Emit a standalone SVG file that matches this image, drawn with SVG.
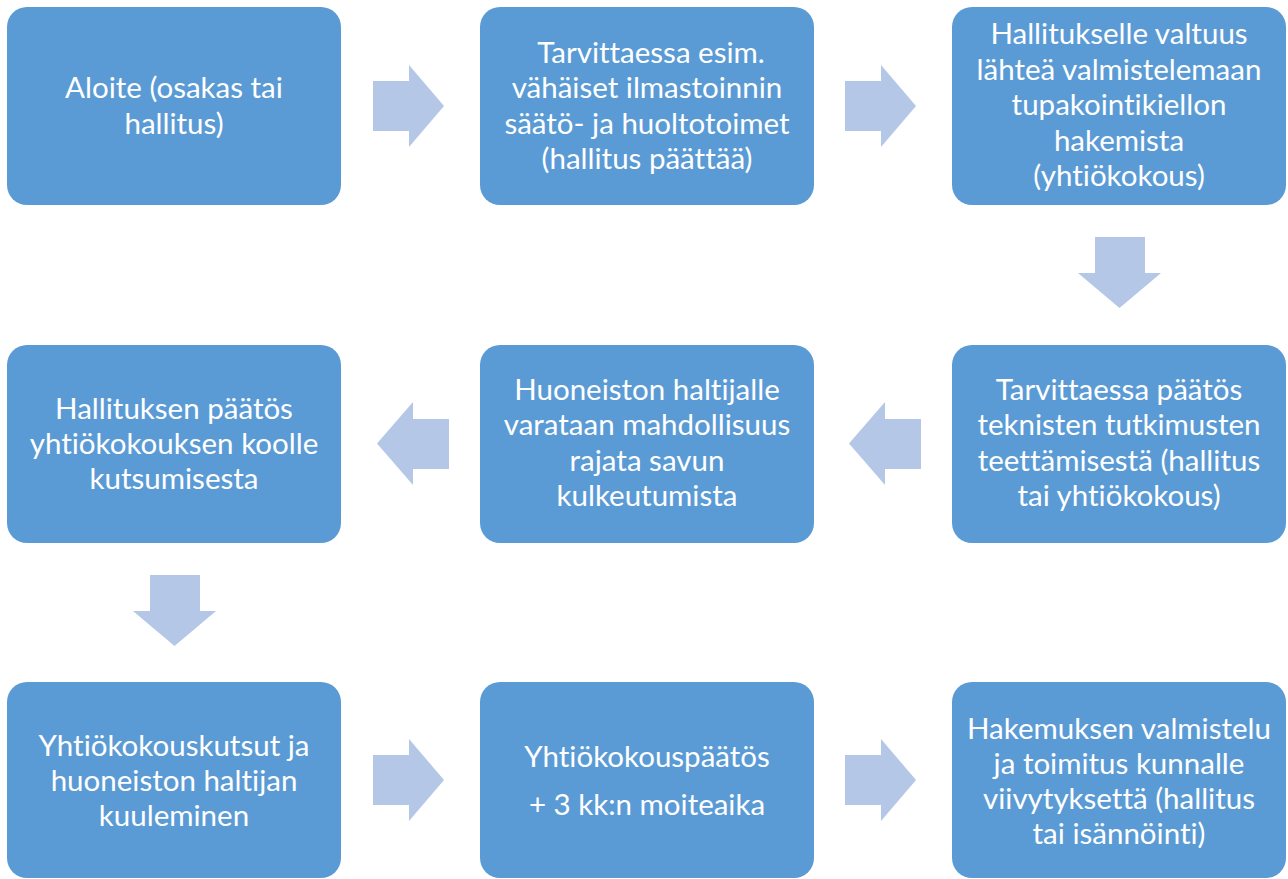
<svg xmlns="http://www.w3.org/2000/svg" width="1288" height="879" viewBox="0 0 1288 879">
<style>
.box{fill:#5B9BD5;}
.arr{fill:#B4C7E7;}
text{font-family:Lato,"Open Sans","Liberation Sans",sans-serif;font-size:29.5px;fill:#FFFFFF;text-anchor:middle;font-variant-ligatures:none;}
</style>
<rect width="1288" height="879" fill="#FFFFFF"/>
<g id="connectors">
<polygon class="arr" points="373,81 409,81 409,65 444,106 409,147 409,131 373,131"/>
<polygon class="arr" points="845,81 881,81 881,65 916,106 881,147 881,131 845,131"/>
<polygon class="arr" points="1095,237 1145,237 1145,273 1161,273 1119.5,308 1078,273 1095,273"/>
<polygon class="arr" points="921,419 885,419 885,402 849,443.5 885,485 885,469 921,469"/>
<polygon class="arr" points="449,419 413,419 413,402 377,443.5 413,485 413,469 449,469"/>
<polygon class="arr" points="150,575 200,575 200,611 216,611 174.5,646 133,611 150,611"/>
<polygon class="arr" points="373,755 409,755 409,739 444,780 409,821 409,805 373,805"/>
<polygon class="arr" points="845,755 881,755 881,739 916,780 881,821 881,805 845,805"/>
</g>
<g id="n1"><rect class="box" x="7" y="7" width="334" height="198" rx="20"/>
<text x="174" y="98">Aloite (osakas tai</text><text x="174" y="134">hallitus)</text></g>
<g id="n2"><rect class="box" x="480" y="7" width="334" height="198" rx="20"/>
<text x="651" y="63">Tarvittaessa esim.</text><text x="647" y="98">vähäiset ilmastoinnin</text><text x="647" y="134">säätö- ja huoltotoimet</text><text x="647" y="169">(hallitus päättää)</text></g>
<g id="n3"><rect class="box" x="952" y="7" width="334" height="198" rx="20"/>
<text x="1119" y="44">Hallitukselle valtuus</text><text x="1119" y="80">lähteä valmistelemaan</text><text x="1119" y="115">tupakointikiellon</text><text x="1119" y="151">hakemista</text><text x="1119" y="186">(yhtiökokous)</text></g>
<g id="n4"><rect class="box" x="952" y="345" width="334" height="198" rx="20"/>
<text x="1119" y="400">Tarvittaessa päätös</text><text x="1119" y="435">teknisten tutkimusten</text><text x="1119" y="471">teettämisestä (hallitus</text><text x="1119" y="506">tai yhtiökokous)</text></g>
<g id="n5"><rect class="box" x="480" y="345" width="334" height="198" rx="20"/>
<text x="647" y="400">Huoneiston haltijalle</text><text x="647" y="435">varataan mahdollisuus</text><text x="647" y="471">rajata savun</text><text x="647" y="506">kulkeutumista</text></g>
<g id="n6"><rect class="box" x="7" y="345" width="334" height="198" rx="20"/>
<text x="174" y="419">Hallituksen päätös</text><text x="174" y="454">yhtiökokouksen koolle</text><text x="174" y="489">kutsumisesta</text></g>
<g id="n7"><rect class="box" x="7" y="682" width="334" height="196" rx="20"/>
<text x="174" y="756">Yhtiökokouskutsut ja</text><text x="174" y="791">huoneiston haltijan</text><text x="174" y="826">kuuleminen</text></g>
<g id="n8"><rect class="box" x="480" y="682" width="334" height="196" rx="20"/>
<text x="647" y="767">Yhtiökokouspäätös</text><text x="647" y="815">+ 3 kk:n moiteaika</text></g>
<g id="n9"><rect class="box" x="952" y="682" width="334" height="196" rx="20"/>
<text x="1119" y="739">Hakemuksen valmistelu</text><text x="1119" y="774">ja toimitus kunnalle</text><text x="1119" y="809">viivytyksettä (hallitus</text><text x="1119" y="844">tai isännöinti)</text></g>
</svg>
